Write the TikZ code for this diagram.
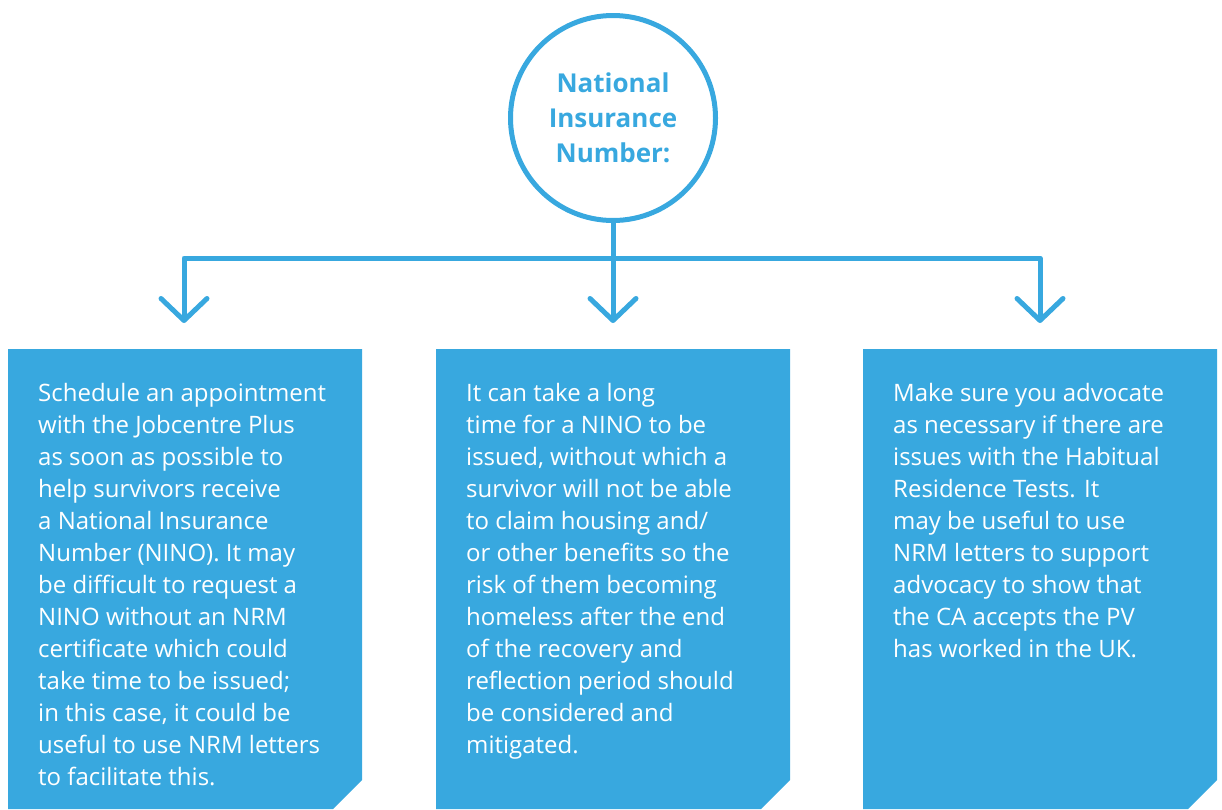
\documentclass[tikz,border=0pt]{standalone}
\usepackage{fontspec}
\setmainfont{Open Sans}
\usetikzlibrary{arrows.meta}
\definecolor{ninoblue}{HTML}{38A8DF}
\tikzset{
  infobox/.style={rectangle, minimum width=354pt, minimum height=460pt, inner sep=0pt, outer sep=0pt},
  boxtext/.style={anchor=north west, align=left, inner sep=0pt, text=white,
    font=\fontsize{24}{32}\selectfont},
  link/.style={draw=ninoblue, line width=5pt, line cap=round, line join=round},
  tip/.style={-{Straight Barb[length=22pt, width=46pt, round]}}
}
\newcommand{\cutbox}[1]{%
  \fill[ninoblue] (#1.north west) -- (#1.north east) -- ([yshift=29pt]#1.south east)
    -- ([xshift=-29pt]#1.south east) -- (#1.south west) -- cycle;}
\begin{document}
\begin{tikzpicture}[x=1pt, y=-1pt]
\useasboundingbox (0,0) rectangle (1222,809);
% title circle
\node[circle, draw=ninoblue, line width=5pt, minimum size=205pt, align=center,
  text=ninoblue, font=\bfseries\fontsize{26}{35}\selectfont] (nino) at (613,118)
  {National\\Insurance\\Number:};
% the three boxes
\node[infobox] (box1) at (185,579) {};
\node[infobox] (box2) at (613,579) {};
\node[infobox] (box3) at (1040,579) {};
\cutbox{box1}
\cutbox{box2}
\cutbox{box3}
\node[boxtext] (txt1) at ([xshift=30pt, yshift=-34pt]box1.north west)
  {Schedule an appointment\\with the Jobcentre Plus\\as soon as possible to\\help survivors receive\\a National Insurance\\Number (NINO). It may\\be difficult to request a\\NINO without an NRM\\certificate which could\\take time to be issued;\\in this case, it could be\\useful to use NRM letters\\to facilitate this.};
\node[boxtext] (txt2) at ([xshift=30pt, yshift=-34pt]box2.north west)
  {It can take a long\\time for a NINO to be\\issued, without which a\\survivor will not be able\\to claim housing and/\\or other benefits so the\\risk of them becoming\\homeless after the end\\of the recovery and\\reflection period should\\be considered and\\mitigated.};
\node[boxtext] (txt3) at ([xshift=30pt, yshift=-34pt]box3.north west)
  {Make sure you advocate\\as necessary if there are\\issues with the Habitual\\Residence Tests. It\\may be useful to use\\NRM letters to support\\advocacy to show that\\the CA accepts the PV\\has worked in the UK.};
% connectors
\coordinate (hub) at (613,258);
\coordinate (end1) at ([xshift=-1pt, yshift=26pt]box1.north);
\coordinate (end2) at ([yshift=26pt]box2.north);
\coordinate (end3) at ([yshift=26pt]box3.north);
\draw[link] (nino.south) -- (hub);
\draw[link, tip] (hub) -| (end1);
\draw[link, tip] (hub) -- (end2);
\draw[link, tip] (hub) -| (end3);
\end{tikzpicture}
\end{document}
